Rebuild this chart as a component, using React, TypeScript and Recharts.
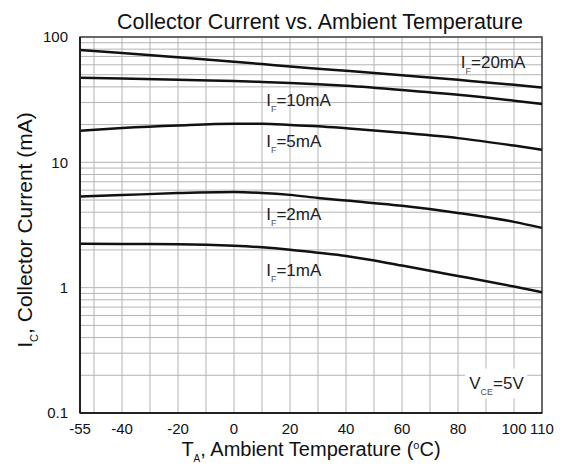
import React from 'react';
import {
  LineChart,
  Line,
  XAxis,
  YAxis,
  CartesianGrid,
  ReferenceArea,
  ReferenceDot,
  Label,
} from 'recharts';

// temperature points (°C)
const temps = [-55, -40, -20, 0, 10, 20, 30, 40, 60, 80, 100, 110];

// collector current (mA) per forward current
const if20 = [78.7, 74.5, 68.8, 63.4, 60.8, 58.2, 55.9, 53.7, 49.5, 45.5, 41.6, 39.5];
const if10 = [47.4, 46.7, 45.6, 44.5, 43.8, 43, 42, 40.8, 37.8, 34.6, 31, 29.2];
const if5 = [17.9, 18.8, 19.7, 20.3, 20.3, 19.9, 19.4, 18.7, 17.2, 15.6, 13.6, 12.6];
const if2 = [5.34, 5.48, 5.68, 5.79, 5.7, 5.5, 5.2, 4.95, 4.5, 3.95, 3.35, 3.0];
const if1 = [2.24, 2.23, 2.22, 2.16, 2.1, 2.01, 1.9, 1.79, 1.5, 1.24, 1.02, 0.92];

const xTickLabels = [-55, -40, -20, 0, 20, 40, 60, 80, 100, 110];
const xGridLines = [-55, -50, -40, -30, -20, -10, 0, 10, 20, 30, 40, 50, 60, 70, 80, 90, 100, 110];
const yTickLabels = [0.1, 1, 10, 100];
const yGridLines = [
  0.1, 0.2, 0.3, 0.4, 0.5, 0.6, 0.7, 0.8, 0.9,
  1, 2, 3, 4, 5, 6, 7, 8, 9,
  10, 20, 30, 40, 50, 60, 70, 80, 90, 100,
];

// curve labels: [main, subscript, rest, temp, current]
const curveLabels: [string, string, string, number, number][] = [
  ['I', 'F', '=20mA', 81, 63],
  ['I', 'F', '=10mA', 11.5, 31.5],
  ['I', 'F', '=5mA', 11.5, 14.8],
  ['I', 'F', '=2mA', 11.5, 3.9],
  ['I', 'F', '=1mA', 11.5, 1.39],
  ['V', 'CE', '=5V', 84, 0.175],
];

const data = temps.map((t, i) => ({
  t,
  if20: if20[i],
  if10: if10[i],
  if5: if5[i],
  if2: if2[i],
  if1: if1[i],
}));

const FONT = '"Liberation Sans", Arial, sans-serif';

const SubText = ({ cx, cy, main, sub, rest, bg }: any) => (
  <g>
    {bg && <rect x={cx - 4} y={cy - 14} width={62} height={30} fill="#fff" />}
    <text x={cx} y={cy + 6} fontFamily={FONT} fontSize={17} fill="#222">
      <tspan>{main}</tspan>
      <tspan dy={6} fontSize={9} fill="#555">{sub}</tspan>
      <tspan dy={-6}>{rest}</tspan>
    </text>
  </g>
);

const YLabel = ({ viewBox }: any) => {
  const cx = 32;
  const cy = viewBox.y + viewBox.height / 2 + 5;
  return (
    <text
      x={cx}
      y={cy}
      transform={`rotate(-90 ${cx} ${cy})`}
      textAnchor="middle"
      fontFamily={FONT}
      fontSize={21}
      fill="#111"
    >
      <tspan>I</tspan>
      <tspan dy={6} fontSize={11}>C</tspan>
      <tspan dy={-6}>, Collector Current (mA)</tspan>
    </text>
  );
};

const XLabel = ({ viewBox }: any) => {
  const cx = viewBox.x + viewBox.width / 2;
  return (
    <text x={cx} y={456} textAnchor="middle" fontFamily={FONT} fontSize={20} fill="#111">
      <tspan>T</tspan>
      <tspan dy={6} fontSize={10}>A</tspan>
      <tspan dy={-6}>, Ambient Temperature (</tspan>
      <tspan dy={-7} fontSize={11}>o</tspan>
      <tspan dy={7}>C)</tspan>
    </text>
  );
};

export default function App() {
  const series = ['if20', 'if10', 'if5', 'if2', 'if1'];
  return (
    <div style={{ position: 'absolute', left: 0, top: 0, width: 564, height: 467, background: '#fff' }}>
      <LineChart width={564} height={467} data={data} margin={{ top: 37, right: 22, bottom: 0, left: 0 }}>
        <text x={320} y={29} textAnchor="middle" fontFamily={FONT} fontSize={21.5} fill="#111">
          Collector Current vs. Ambient Temperature
        </text>
        <CartesianGrid stroke="#b4b4b4" strokeWidth={1} />
        <XAxis
          dataKey="t"
          type="number"
          domain={[-55, 110]}
          ticks={xGridLines}
          interval={0}
          tickFormatter={(v: number) => (xTickLabels.includes(v) ? String(v) : '')}
          tick={{ fontFamily: FONT, fontSize: 15, fill: '#111' }}
          tickLine={false}
          axisLine={{ stroke: '#222', strokeWidth: 2 }}
          height={54}
          tickMargin={4}
        >
          <Label content={<XLabel />} />
        </XAxis>
        <YAxis
          type="number"
          scale="log"
          domain={[0.1, 100]}
          ticks={yGridLines}
          interval={0}
          allowDataOverflow
          tickFormatter={(v: number) => (yTickLabels.includes(v) ? String(v) : '')}
          tick={{ fontFamily: FONT, fontSize: 15, fill: '#111' }}
          tickLine={false}
          axisLine={{ stroke: '#222', strokeWidth: 2 }}
          width={80}
          tickMargin={6}
        >
          <Label content={<YLabel />} />
        </YAxis>
        <ReferenceArea x1={-55} x2={110} y1={0.1} y2={100} fill="none" stroke="#444" strokeWidth={1.5} />
        {series.map((k) => (
          <Line
            key={k}
            dataKey={k}
            type="monotone"
            stroke="#111"
            strokeWidth={2.5}
            dot={false}
            isAnimationActive={false}
          />
        ))}
        {curveLabels.map(([main, sub, rest, t, v], i) => (
          <ReferenceDot
            key={i}
            x={t}
            y={v}
            r={0}
            shape={(p: any) => (
              <SubText cx={p.cx} cy={p.cy} main={main} sub={sub} rest={rest} bg={main === 'V'} />
            )}
          />
        ))}
      </LineChart>
    </div>
  );
}
